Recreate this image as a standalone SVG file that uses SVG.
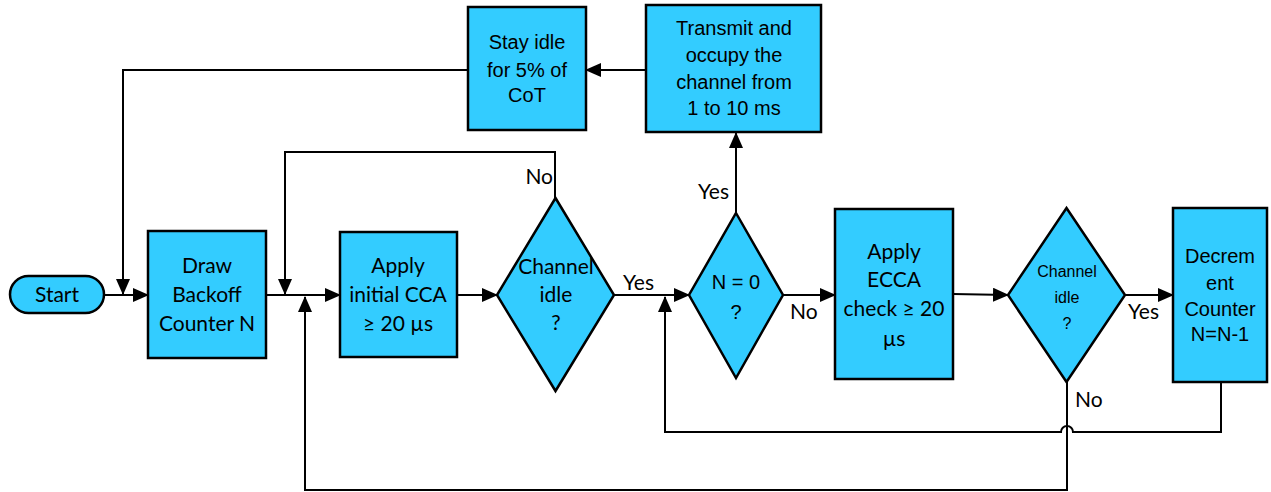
<svg xmlns="http://www.w3.org/2000/svg" width="1271" height="492" viewBox="0 0 1271 492">
<defs>
<marker id="arr" markerUnits="userSpaceOnUse" markerWidth="16" markerHeight="14" refX="15" refY="7" orient="auto">
<path d="M0,0 L16,7 L0,14 Z" fill="#000"/>
</marker>
<style>
.n{fill:#33CCFF;stroke:#000;stroke-width:2.5}
.c{fill:none;stroke:#000;stroke-width:2}
.ca{font-family:Lato,"Open Sans",sans-serif;font-size:21px;fill:#000;text-anchor:middle}
.ar{font-family:"Liberation Sans",Arial,sans-serif;font-size:20px;fill:#000;text-anchor:middle}
.lb{font-family:Lato,"Open Sans",sans-serif;font-size:21px;fill:#000}
</style>
</defs>
<rect width="1271" height="492" fill="#fff"/>
<g id="connectors">
<path class="c" d="M104,295 H148" marker-end="url(#arr)"/>
<path class="c" d="M468,70 H123 V294" marker-end="url(#arr)"/>
<path class="c" d="M266,295 H340" marker-end="url(#arr)"/>
<path class="c" d="M555,198 V152 H285 V294" marker-end="url(#arr)"/>
<path class="c" d="M457,295 H497" marker-end="url(#arr)"/>
<path class="c" d="M614,295 H689" marker-end="url(#arr)"/>
<path class="c" d="M736,213 V133" marker-end="url(#arr)"/>
<path class="c" d="M646,70 H586" marker-end="url(#arr)"/>
<path class="c" d="M783,295 H835" marker-end="url(#arr)"/>
<path class="c" d="M953,294 L1008,295" marker-end="url(#arr)"/>
<path class="c" d="M1125,295 H1173" marker-end="url(#arr)"/>
<path class="c" d="M1221,382 V432 H1073 A6,6 0 0 0 1061,432 H665 V297" marker-end="url(#arr)"/>
<path class="c" d="M1067,382 V490 H305 V297" marker-end="url(#arr)"/>
</g>
<g id="start">
<rect class="n" x="10" y="276" width="94" height="37" rx="18.5"/>
<text class="ca" x="57" y="302">Start</text>
</g>
<g id="draw">
<rect class="n" x="148" y="231" width="118" height="127"/>
<text class="ca" x="207" y="273">Draw</text>
<text class="ca" x="207" y="302">Backoff</text>
<text class="ca" x="207" y="331">Counter N</text>
</g>
<g id="cca">
<rect class="n" x="340" y="232" width="117" height="125"/>
<text class="ca" x="398" y="273">Apply</text>
<text class="ca" x="398" y="302">initial CCA</text>
<text class="ca" x="398" y="331">≥ 20 µs</text>
</g>
<g id="idle1">
<polygon class="n" points="555.5,198 614,295 555.5,391 497,295"/>
<text class="ca" x="556" y="274">Channel</text>
<text class="ca" x="556" y="302">idle</text>
<text class="ca" x="556" y="330">?</text>
</g>
<g id="n0">
<polygon class="n" points="736,213 783,295 736,378 689,295"/>
<text class="ar" x="736" y="289">N = 0</text>
<text class="ar" x="736" y="319">?</text>
</g>
<g id="transmit">
<rect class="n" x="646" y="5" width="175" height="127"/>
<text class="ar" x="734" y="35">Transmit and</text>
<text class="ar" x="734" y="62">occupy the</text>
<text class="ar" x="734" y="89">channel from</text>
<text class="ar" x="734" y="115">1 to 10 ms</text>
</g>
<g id="stayidle">
<rect class="n" x="468" y="7" width="118" height="123"/>
<text class="ar" x="527" y="49">Stay idle</text>
<text class="ar" x="527" y="77">for 5% of</text>
<text class="ar" x="527" y="102">CoT</text>
</g>
<g id="ecca">
<rect class="n" x="835" y="209" width="118" height="170"/>
<text class="ca" x="894" y="259">Apply</text>
<text class="ca" x="894" y="287">ECCA</text>
<text class="ca" x="894" y="316">check ≥ 20</text>
<text class="ca" x="894" y="346">µs</text>
</g>
<g id="idle2">
<polygon class="n" points="1066.5,208 1125,295 1066.5,382 1008,295"/>
<text class="ar" x="1067" y="277" style="font-size:16px">Channel</text>
<text class="ar" x="1067" y="303" style="font-size:16px">idle</text>
<text class="ar" x="1067" y="329" style="font-size:16px">?</text>
</g>
<g id="decrement">
<rect class="n" x="1173" y="208" width="94" height="174"/>
<text class="ar" x="1220" y="263">Decrem</text>
<text class="ar" x="1220" y="290">ent</text>
<text class="ar" x="1220" y="316">Counter</text>
<text class="ar" x="1220" y="341">N=N-1</text>
</g>
<g id="labels">
<text class="lb" x="553" y="184" text-anchor="end">No</text>
<text class="lb" x="623" y="290">Yes</text>
<text class="lb" x="698" y="199">Yes</text>
<text class="lb" x="790" y="319">No</text>
<text class="lb" x="1128" y="319">Yes</text>
<text class="lb" x="1075" y="407">No</text>
</g>
</svg>
